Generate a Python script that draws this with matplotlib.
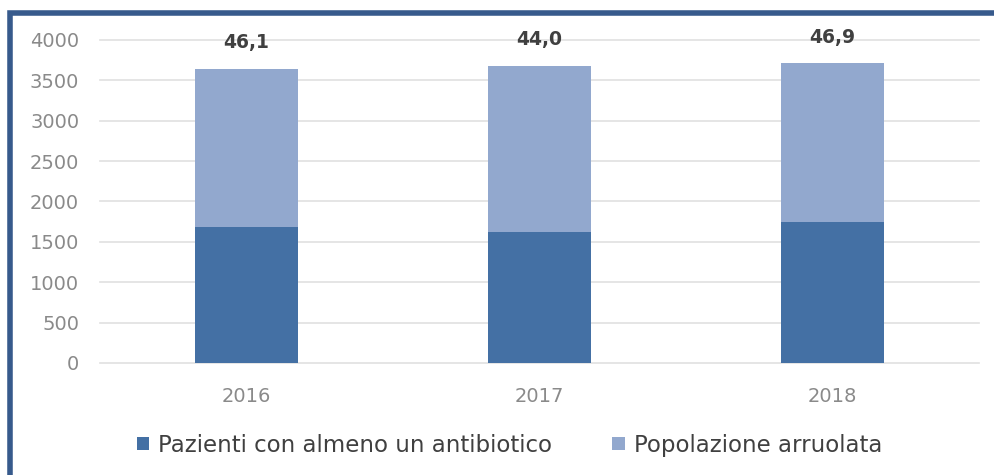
import matplotlib.pyplot as plt
from matplotlib.patches import Rectangle
import numpy as np

# Antibiotic use among enrolled patients, by year
years = ["2016", "2017", "2018"]
enrolled = [3640, 3675, 3710]          # Popolazione arruolata
pct_treated = [46.1, 44.0, 46.9]       # % con almeno un antibiotico
treated = [e * p / 100 for e, p in zip(enrolled, pct_treated)]

dark_blue = "#4470a4"
light_blue = "#92a8ce"
frame_blue = "#375a8c"

plt.rcParams["font.family"] = ["DejaVu Sans"]

fig = plt.figure(figsize=(9.95, 4.75), dpi=100)
ax = fig.add_axes([0.1005, 0.2358, 0.8835, 0.68])

x = np.arange(len(years))
width = 0.35
ax.bar(x, enrolled, width, color=light_blue, label="Popolazione arruolata", zorder=2)
ax.bar(x, treated, width, color=dark_blue, label="Pazienti con almeno un antibiotico", zorder=3)

for xi, total, pct in zip(x, enrolled, pct_treated):
    ax.annotate(f"{pct:.1f}".replace(".", ","), (xi, total),
                xytext=(0, 19), textcoords="offset points",
                ha="center", va="center", fontsize=13.5, fontweight="bold",
                color="#404040")

ax.set_xlim(-0.5, 2.5)
ax.set_ylim(0, 4000)
ax.set_yticks(np.arange(0, 4001, 500))
ax.set_xticks(x)
ax.set_xticklabels(years)
ax.tick_params(axis="both", length=0, labelsize=14, labelcolor="#8a8a8a")
ax.tick_params(axis="y", pad=15)
ax.tick_params(axis="x", pad=17)
ax.grid(axis="y", color="#e0e0e0", lw=1.2, zorder=0)
# keep the 0 and 4000 gridlines whole at the axes edges
for gl in ax.get_ygridlines():
    gl.set_clip_on(False)
for s in ax.spines.values():
    s.set_visible(False)

handles, labels = ax.get_legend_handles_labels()
fig.legend(handles[::-1], labels[::-1], loc="center", bbox_to_anchor=(0.512, 0.063),
           ncol=2, frameon=False, fontsize=16.5, labelcolor="#404040",
           handlelength=0.55, handleheight=0.55, handletextpad=0.4,
           columnspacing=2.6)

# dark blue frame along the top and left edges
fig.patches.append(Rectangle((10 / 995, -0.1), 1.1, 1.1 - 13.5 / 475,
                             transform=fig.transFigure, fill=False,
                             edgecolor=frame_blue, lw=4.0))

fig.savefig("out.png", dpi=100)
